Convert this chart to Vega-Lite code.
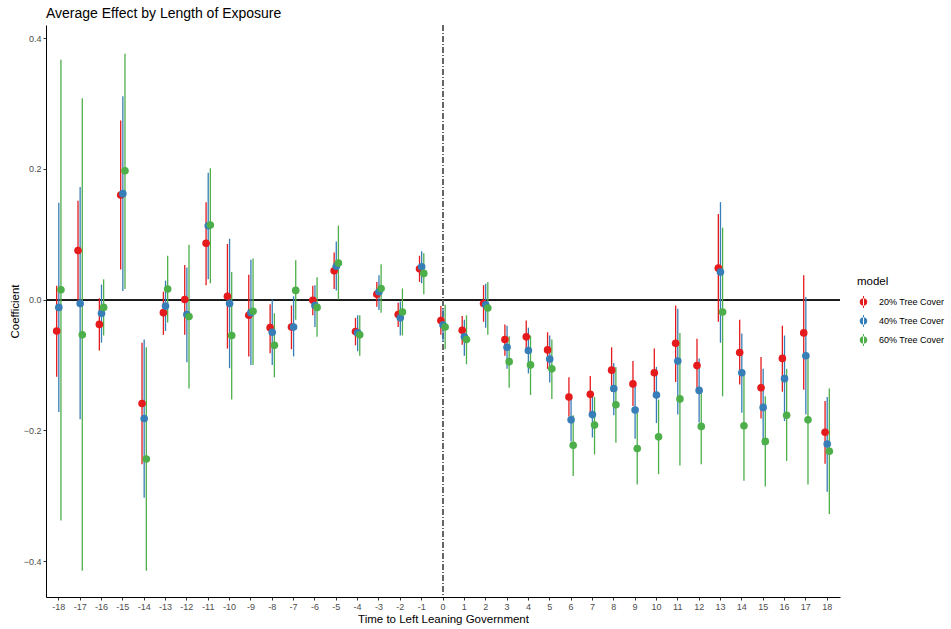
{
  "$schema": "https://vega.github.io/schema/vega-lite/v6.json",
  "autosize": "none",
  "width": 794,
  "height": 572,
  "padding": {"left": 46, "top": 25, "right": 111, "bottom": 32},
  "background": "white",
  "title": {"text": "Average Effect by Length of Exposure", "anchor": "start", "frame": "group", "font": "Liberation Sans", "fontSize": 14, "fontWeight": "normal", "color": "black", "offset": 4},
  "config": {"view": {"stroke": null}, "font": "Liberation Sans"},
  "data": {"values": [
    {"t": -18, "m": "20% Tree Cover", "est": -0.048, "lo": -0.118, "hi": 0.021},
    {"t": -18, "m": "40% Tree Cover", "est": -0.012, "lo": -0.172, "hi": 0.148},
    {"t": -18, "m": "60% Tree Cover", "est": 0.015, "lo": -0.338, "hi": 0.367},
    {"t": -17, "m": "20% Tree Cover", "est": 0.075, "lo": -0.002, "hi": 0.151},
    {"t": -17, "m": "40% Tree Cover", "est": -0.006, "lo": -0.183, "hi": 0.172},
    {"t": -17, "m": "60% Tree Cover", "est": -0.054, "lo": -0.415, "hi": 0.308},
    {"t": -16, "m": "20% Tree Cover", "est": -0.038, "lo": -0.078, "hi": 0.002},
    {"t": -16, "m": "40% Tree Cover", "est": -0.021, "lo": -0.066, "hi": 0.023},
    {"t": -16, "m": "60% Tree Cover", "est": -0.012, "lo": -0.055, "hi": 0.031},
    {"t": -15, "m": "20% Tree Cover", "est": 0.160, "lo": 0.046, "hi": 0.274},
    {"t": -15, "m": "40% Tree Cover", "est": 0.162, "lo": 0.013, "hi": 0.311},
    {"t": -15, "m": "60% Tree Cover", "est": 0.197, "lo": 0.016, "hi": 0.376},
    {"t": -14, "m": "20% Tree Cover", "est": -0.159, "lo": -0.252, "hi": -0.066},
    {"t": -14, "m": "40% Tree Cover", "est": -0.182, "lo": -0.303, "hi": -0.061},
    {"t": -14, "m": "60% Tree Cover", "est": -0.244, "lo": -0.415, "hi": -0.073},
    {"t": -13, "m": "20% Tree Cover", "est": -0.020, "lo": -0.054, "hi": 0.012},
    {"t": -13, "m": "40% Tree Cover", "est": -0.010, "lo": -0.048, "hi": 0.029},
    {"t": -13, "m": "60% Tree Cover", "est": 0.016, "lo": -0.035, "hi": 0.067},
    {"t": -12, "m": "20% Tree Cover", "est": 0.000, "lo": -0.054, "hi": 0.053},
    {"t": -12, "m": "40% Tree Cover", "est": -0.023, "lo": -0.096, "hi": 0.049},
    {"t": -12, "m": "60% Tree Cover", "est": -0.026, "lo": -0.136, "hi": 0.084},
    {"t": -11, "m": "20% Tree Cover", "est": 0.086, "lo": 0.022, "hi": 0.149},
    {"t": -11, "m": "40% Tree Cover", "est": 0.113, "lo": 0.031, "hi": 0.194},
    {"t": -11, "m": "60% Tree Cover", "est": 0.114, "lo": 0.025, "hi": 0.201},
    {"t": -10, "m": "20% Tree Cover", "est": 0.005, "lo": -0.075, "hi": 0.085},
    {"t": -10, "m": "40% Tree Cover", "est": -0.006, "lo": -0.105, "hi": 0.093},
    {"t": -10, "m": "60% Tree Cover", "est": -0.055, "lo": -0.153, "hi": 0.042},
    {"t": -9, "m": "20% Tree Cover", "est": -0.024, "lo": -0.087, "hi": 0.038},
    {"t": -9, "m": "40% Tree Cover", "est": -0.020, "lo": -0.100, "hi": 0.061},
    {"t": -9, "m": "60% Tree Cover", "est": -0.018, "lo": -0.100, "hi": 0.063},
    {"t": -8, "m": "20% Tree Cover", "est": -0.043, "lo": -0.082, "hi": -0.007},
    {"t": -8, "m": "40% Tree Cover", "est": -0.050, "lo": -0.100, "hi": 0.000},
    {"t": -8, "m": "60% Tree Cover", "est": -0.070, "lo": -0.119, "hi": -0.021},
    {"t": -7, "m": "20% Tree Cover", "est": -0.042, "lo": -0.076, "hi": -0.009},
    {"t": -7, "m": "40% Tree Cover", "est": -0.042, "lo": -0.087, "hi": 0.005},
    {"t": -7, "m": "60% Tree Cover", "est": 0.014, "lo": -0.031, "hi": 0.060},
    {"t": -6, "m": "20% Tree Cover", "est": -0.001, "lo": -0.024, "hi": 0.021},
    {"t": -6, "m": "40% Tree Cover", "est": -0.009, "lo": -0.042, "hi": 0.022},
    {"t": -6, "m": "60% Tree Cover", "est": -0.012, "lo": -0.057, "hi": 0.034},
    {"t": -5, "m": "20% Tree Cover", "est": 0.044, "lo": 0.016, "hi": 0.072},
    {"t": -5, "m": "40% Tree Cover", "est": 0.051, "lo": 0.014, "hi": 0.089},
    {"t": -5, "m": "60% Tree Cover", "est": 0.056, "lo": 0.000, "hi": 0.113},
    {"t": -4, "m": "20% Tree Cover", "est": -0.049, "lo": -0.070, "hi": -0.028},
    {"t": -4, "m": "40% Tree Cover", "est": -0.051, "lo": -0.079, "hi": -0.024},
    {"t": -4, "m": "60% Tree Cover", "est": -0.054, "lo": -0.086, "hi": -0.024},
    {"t": -3, "m": "20% Tree Cover", "est": 0.008, "lo": -0.011, "hi": 0.027},
    {"t": -3, "m": "40% Tree Cover", "est": 0.012, "lo": -0.016, "hi": 0.037},
    {"t": -3, "m": "60% Tree Cover", "est": 0.017, "lo": -0.020, "hi": 0.054},
    {"t": -2, "m": "20% Tree Cover", "est": -0.023, "lo": -0.042, "hi": -0.005},
    {"t": -2, "m": "40% Tree Cover", "est": -0.028, "lo": -0.055, "hi": -0.003},
    {"t": -2, "m": "60% Tree Cover", "est": -0.019, "lo": -0.055, "hi": 0.017},
    {"t": -1, "m": "20% Tree Cover", "est": 0.047, "lo": 0.027, "hi": 0.067},
    {"t": -1, "m": "40% Tree Cover", "est": 0.050, "lo": 0.025, "hi": 0.074},
    {"t": -1, "m": "60% Tree Cover", "est": 0.040, "lo": 0.008, "hi": 0.071},
    {"t": 0, "m": "20% Tree Cover", "est": -0.032, "lo": -0.054, "hi": -0.010},
    {"t": 0, "m": "40% Tree Cover", "est": -0.039, "lo": -0.064, "hi": -0.014},
    {"t": 0, "m": "60% Tree Cover", "est": -0.042, "lo": -0.076, "hi": -0.008},
    {"t": 1, "m": "20% Tree Cover", "est": -0.047, "lo": -0.069, "hi": -0.025},
    {"t": 1, "m": "40% Tree Cover", "est": -0.057, "lo": -0.086, "hi": -0.031},
    {"t": 1, "m": "60% Tree Cover", "est": -0.061, "lo": -0.099, "hi": -0.024},
    {"t": 2, "m": "20% Tree Cover", "est": -0.006, "lo": -0.034, "hi": 0.022},
    {"t": 2, "m": "40% Tree Cover", "est": -0.008, "lo": -0.043, "hi": 0.024},
    {"t": 2, "m": "60% Tree Cover", "est": -0.013, "lo": -0.054, "hi": 0.027},
    {"t": 3, "m": "20% Tree Cover", "est": -0.061, "lo": -0.086, "hi": -0.038},
    {"t": 3, "m": "40% Tree Cover", "est": -0.073, "lo": -0.106, "hi": -0.040},
    {"t": 3, "m": "60% Tree Cover", "est": -0.095, "lo": -0.135, "hi": -0.056},
    {"t": 4, "m": "20% Tree Cover", "est": -0.057, "lo": -0.082, "hi": -0.032},
    {"t": 4, "m": "40% Tree Cover", "est": -0.078, "lo": -0.113, "hi": -0.043},
    {"t": 4, "m": "60% Tree Cover", "est": -0.100, "lo": -0.146, "hi": -0.055},
    {"t": 5, "m": "20% Tree Cover", "est": -0.077, "lo": -0.106, "hi": -0.050},
    {"t": 5, "m": "40% Tree Cover", "est": -0.091, "lo": -0.127, "hi": -0.055},
    {"t": 5, "m": "60% Tree Cover", "est": -0.106, "lo": -0.152, "hi": -0.061},
    {"t": 6, "m": "20% Tree Cover", "est": -0.149, "lo": -0.179, "hi": -0.119},
    {"t": 6, "m": "40% Tree Cover", "est": -0.184, "lo": -0.217, "hi": -0.151},
    {"t": 6, "m": "60% Tree Cover", "est": -0.223, "lo": -0.270, "hi": -0.177},
    {"t": 7, "m": "20% Tree Cover", "est": -0.145, "lo": -0.174, "hi": -0.117},
    {"t": 7, "m": "40% Tree Cover", "est": -0.176, "lo": -0.211, "hi": -0.146},
    {"t": 7, "m": "60% Tree Cover", "est": -0.192, "lo": -0.237, "hi": -0.149},
    {"t": 8, "m": "20% Tree Cover", "est": -0.108, "lo": -0.141, "hi": -0.073},
    {"t": 8, "m": "40% Tree Cover", "est": -0.136, "lo": -0.177, "hi": -0.097},
    {"t": 8, "m": "60% Tree Cover", "est": -0.161, "lo": -0.219, "hi": -0.103},
    {"t": 9, "m": "20% Tree Cover", "est": -0.129, "lo": -0.163, "hi": -0.094},
    {"t": 9, "m": "40% Tree Cover", "est": -0.169, "lo": -0.213, "hi": -0.130},
    {"t": 9, "m": "60% Tree Cover", "est": -0.228, "lo": -0.283, "hi": -0.173},
    {"t": 10, "m": "20% Tree Cover", "est": -0.112, "lo": -0.149, "hi": -0.075},
    {"t": 10, "m": "40% Tree Cover", "est": -0.146, "lo": -0.189, "hi": -0.103},
    {"t": 10, "m": "60% Tree Cover", "est": -0.210, "lo": -0.267, "hi": -0.153},
    {"t": 11, "m": "20% Tree Cover", "est": -0.067, "lo": -0.126, "hi": -0.009},
    {"t": 11, "m": "40% Tree Cover", "est": -0.094, "lo": -0.176, "hi": -0.014},
    {"t": 11, "m": "60% Tree Cover", "est": -0.152, "lo": -0.254, "hi": -0.051},
    {"t": 12, "m": "20% Tree Cover", "est": -0.101, "lo": -0.142, "hi": -0.060},
    {"t": 12, "m": "40% Tree Cover", "est": -0.139, "lo": -0.188, "hi": -0.090},
    {"t": 12, "m": "60% Tree Cover", "est": -0.194, "lo": -0.252, "hi": -0.138},
    {"t": 13, "m": "20% Tree Cover", "est": 0.048, "lo": -0.034, "hi": 0.131},
    {"t": 13, "m": "40% Tree Cover", "est": 0.042, "lo": -0.066, "hi": 0.149},
    {"t": 13, "m": "60% Tree Cover", "est": -0.019, "lo": -0.148, "hi": 0.110},
    {"t": 14, "m": "20% Tree Cover", "est": -0.081, "lo": -0.130, "hi": -0.031},
    {"t": 14, "m": "40% Tree Cover", "est": -0.112, "lo": -0.173, "hi": -0.052},
    {"t": 14, "m": "60% Tree Cover", "est": -0.193, "lo": -0.277, "hi": -0.108},
    {"t": 15, "m": "20% Tree Cover", "est": -0.135, "lo": -0.182, "hi": -0.088},
    {"t": 15, "m": "40% Tree Cover", "est": -0.165, "lo": -0.223, "hi": -0.106},
    {"t": 15, "m": "60% Tree Cover", "est": -0.217, "lo": -0.286, "hi": -0.148},
    {"t": 16, "m": "20% Tree Cover", "est": -0.090, "lo": -0.141, "hi": -0.040},
    {"t": 16, "m": "40% Tree Cover", "est": -0.121, "lo": -0.186, "hi": -0.055},
    {"t": 16, "m": "60% Tree Cover", "est": -0.177, "lo": -0.247, "hi": -0.106},
    {"t": 17, "m": "20% Tree Cover", "est": -0.051, "lo": -0.138, "hi": 0.037},
    {"t": 17, "m": "40% Tree Cover", "est": -0.086, "lo": -0.176, "hi": 0.004},
    {"t": 17, "m": "60% Tree Cover", "est": -0.184, "lo": -0.283, "hi": -0.087},
    {"t": 18, "m": "20% Tree Cover", "est": -0.203, "lo": -0.251, "hi": -0.155},
    {"t": 18, "m": "40% Tree Cover", "est": -0.221, "lo": -0.294, "hi": -0.149},
    {"t": 18, "m": "60% Tree Cover", "est": -0.232, "lo": -0.328, "hi": -0.136}
  ]},
  "encoding": {
    "x": {
      "field": "t", "type": "ordinal",
      "scale": {"domain": [-18,-17,-16,-15,-14,-13,-12,-11,-10,-9,-8,-7,-6,-5,-4,-3,-2,-1,0,1,2,3,4,5,6,7,8,9,10,11,12,13,14,15,16,17,18], "paddingInner": 0.7, "paddingOuter": 0.45},
      "axis": {"title": "Time to Left Leaning Government", "labelAngle": 0, "domainColor": "black", "domainWidth": 1, "tickColor": "#333333", "tickSize": 3, "labelColor": "#4d4d4d", "labelFontSize": 9, "labelPadding": 2, "titleFontSize": 11.5, "titleFontWeight": "normal", "titleColor": "black", "titlePadding": 2, "grid": false}
    },
    "xOffset": {"field": "m", "type": "nominal", "sort": ["20% Tree Cover", "40% Tree Cover", "60% Tree Cover"]},
    "color": {
      "field": "m", "type": "nominal",
      "scale": {"domain": ["20% Tree Cover", "40% Tree Cover", "60% Tree Cover"], "range": ["#E41A1C", "#377EB8", "#4DAF4A"]},
      "legend": {"title": "model", "orient": "none", "legendX": 811, "legendY": 251, "titleFontSize": 11.5, "titleFontWeight": "normal", "titleColor": "black", "titlePadding": 8, "labelFontSize": 9, "labelColor": "black", "symbolType": "M-0.62,0A0.62,0.62,0,1,0,0.62,0A0.62,0.62,0,1,0,-0.62,0Z M-0.08,-1 L0.08,-1 L0.08,1 L-0.08,1Z", "symbolSize": 150, "symbolStrokeWidth": 0, "symbolOpacity": 1, "rowPadding": 6, "labelOffset": 9}
    }
  },
  "layer": [
    {
      "mark": {"type": "rule", "color": "#222222", "strokeWidth": 0.8},
      "encoding": {"y": {"datum": 0}, "x": null, "xOffset": null, "color": null}
    },
    {
      "mark": {"type": "rule", "color": "#666666", "strokeWidth": 0.8, "strokeDash": [6, 2, 1, 2]},
      "encoding": {"x": {"datum": 0}, "xOffset": null, "color": null}
    },
    {
      "mark": {"type": "rule", "strokeWidth": 1.3},
      "encoding": {
        "y": {"field": "lo", "type": "quantitative"},
        "y2": {"field": "hi"}
      }
    },
    {
      "mark": {"type": "point", "filled": true, "shape": "circle", "size": 58, "opacity": 1},
      "encoding": {
        "y": {
          "field": "est", "type": "quantitative",
          "scale": {"domain": [-0.455, 0.42], "nice": false, "zero": false},
          "axis": {"title": "Coefficient", "values": [-0.4, -0.2, 0, 0.2, 0.4], "format": ".1f", "domainColor": "black", "domainWidth": 1, "tickColor": "#333333", "tickSize": 3, "labelColor": "#4d4d4d", "labelFontSize": 9, "labelPadding": 2, "titleFontSize": 11.5, "titleFontWeight": "normal", "titleColor": "black", "titlePadding": 3, "grid": false}
        }
      }
    }
  ]
}
